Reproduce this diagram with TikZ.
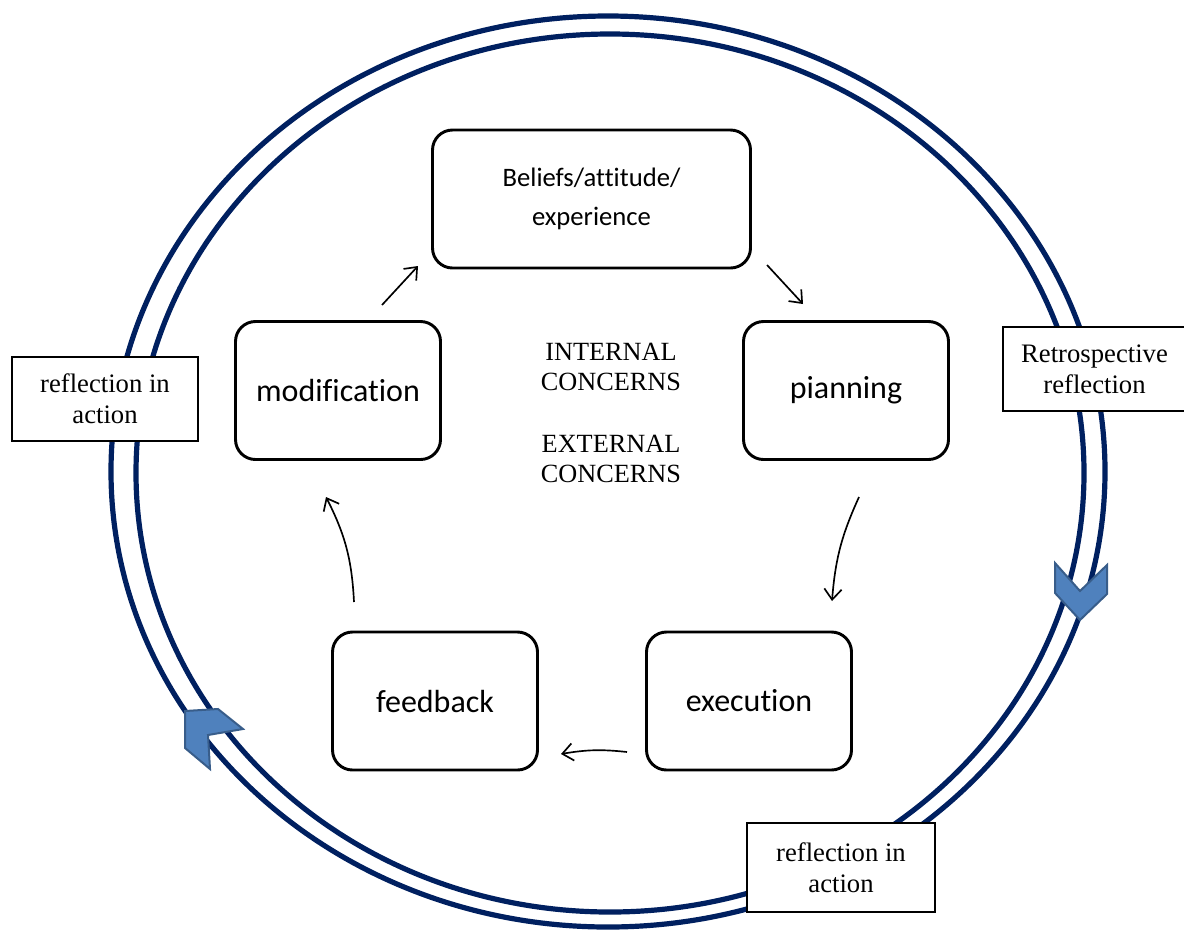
\documentclass[tikz,border=0pt]{standalone}
\usepackage{fontspec}
\setmainfont{Liberation Serif}
\newfontfamily\calfont[Ligatures=NoCommon]{Carlito}
\usetikzlibrary{arrows.meta}

\definecolor{ringblue}{RGB}{0,32,96}
\definecolor{chevfill}{RGB}{79,129,189}
\definecolor{chevline}{RGB}{56,93,138}

\tikzset{every picture/.style={line width=0.75pt}}
\tikzset{
  stagebox/.style={draw, line width=2.2pt, rounded corners=15pt, minimum width=153.75pt, minimum height=103.5pt, inner sep=0pt, align=center, font=\calfont\fontsize{24}{29}\selectfont},
  notebox/.style={draw, fill=white, line width=1.4pt, inner sep=0pt, align=center, font=\fontsize{20}{23}\selectfont},
  ring/.style={draw=ringblue, line width=3.9pt},
  chevron/.style={fill=chevfill, draw=chevline, line width=1.5pt, line join=miter},
  flow/.style={line width=1.25pt, -{Straight Barb[length=8pt,width=13pt]}}
}

\begin{document}
\begin{tikzpicture}[x=0.75pt,y=0.75pt,yscale=-1,xscale=1]
\useasboundingbox (0,0) rectangle (1184,929);

% Shape: Ellipse
\draw [ring] (608,471.5) ellipse [x radius=497, y radius=455.5];
% Shape: Ellipse
\draw [ring] (610,473) ellipse [x radius=474, y radius=439];

% Shape: Chevron
\draw [chevron] (1055,563) -- (1080,591) -- (1107,565) -- (1107,594) -- (1080,620) -- (1055,593) -- cycle;
% Shape: Chevron
\draw [chevron] (185,711) -- (218,709) -- (243,729) -- (208,735) -- (210,769) -- (185,748) -- cycle;

% Text Node
\node [stagebox, minimum width=238.5pt, font=\calfont\fontsize{20}{26}\selectfont] (beliefs) at (591.5,199) {Beliefs/attitude/\\[3pt]experience};
% Text Node
\node [stagebox] (modification) at (338,390.5) {modification};
% Text Node
\node [stagebox] (planning) at (846,390.5) {pianning};
% Text Node
\node [stagebox] (feedback) at (435,701) {feedback};
% Text Node
\node [stagebox] (execution) at (749,701) {execution};

% Text Node
\node [align=center, inner sep=0pt, font=\fontsize{19.7}{23}\selectfont] (internal) at (611,367) {INTERNAL\\CONCERNS};
% Text Node
\node [align=center, inner sep=0pt, font=\fontsize{19.7}{23}\selectfont] (external) at (611,459) {EXTERNAL\\CONCERNS};

% Text Node
\node [notebox, minimum width=139.5pt, minimum height=63pt] (leftnote) at (105,399) {reflection in\\action};
% Text Node
\node [notebox, minimum width=137.25pt, minimum height=63pt] (retro) at (1094.5,369) {Retrospective\\reflection};
% Text Node
\node [notebox, minimum width=141pt, minimum height=66.75pt] (bottomnote) at (841,867.5) {reflection in\\action};

% Connection ends
\coordinate (modOut) at (382,305);
\coordinate (belIn) at (418,266);
\coordinate (belOut) at (767,265);
\coordinate (plaIn) at (803,304);
\coordinate (plaOut) at (859,497);
\coordinate (exeIn) at (832,601);
\coordinate (exeOut) at (627,752);
\coordinate (feeIn) at (561,754);
\coordinate (feeOut) at (354,602);
\coordinate (modIn) at (326,497);

% Connection
\draw [flow] (modOut) -- (belIn);
% Connection
\draw [flow] (belOut) -- (plaIn);
% Connection
\draw [flow] (plaOut) to[bend left=10] (exeIn);
% Connection
\draw [flow] (exeOut) to[bend left=8] (feeIn);
% Connection
\draw [flow] (feeOut) to[bend left=12] (modIn);

\end{tikzpicture}
\end{document}
